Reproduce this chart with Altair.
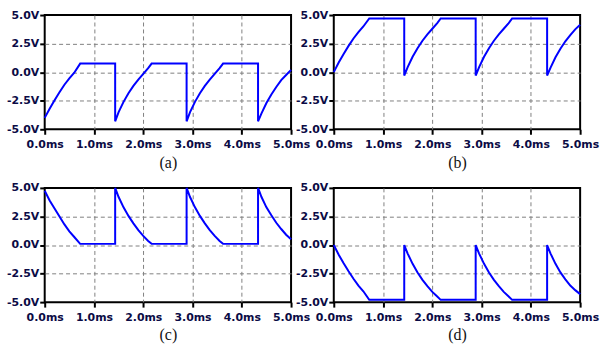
import altair as alt
import pandas as pd

# time samples (ms)
T = [0, 0.1, 0.2, 0.3, 0.4, 0.5, 0.6, 0.72, 1.43,
     1.43, 1.5, 1.6, 1.7, 1.8, 1.9, 2.0, 2.1, 2.17, 2.88,
     2.88, 2.95, 3.05, 3.15, 3.25, 3.35, 3.45, 3.55, 3.62, 4.33,
     4.33, 4.4, 4.5, 4.6, 4.7, 4.8, 4.9, 5.0]

VA = [-4.0, -3.2, -2.45, -1.75, -1.1, -0.55, -0.05, 0.75, 0.75,
      -4.3, -3.5, -2.6, -1.85, -1.2, -0.65, -0.15, 0.35, 0.75, 0.75,
      -4.3, -3.5, -2.6, -1.85, -1.2, -0.65, -0.15, 0.35, 0.75, 0.75,
      -4.3, -3.6, -2.7, -1.95, -1.3, -0.7, -0.25, 0.2]

VB = [0.0, 0.85, 1.6, 2.3, 2.95, 3.5, 4.0, 4.7, 4.7,
      -0.3, 0.45, 1.35, 2.1, 2.75, 3.3, 3.8, 4.3, 4.7, 4.7,
      -0.3, 0.45, 1.35, 2.1, 2.75, 3.3, 3.8, 4.3, 4.7, 4.7,
      -0.3, 0.4, 1.3, 2.05, 2.7, 3.25, 3.75, 4.15]

VC = [4.75, 3.9, 3.2, 2.5, 1.8, 1.2, 0.7, 0.1, 0.1,
      5.0, 4.2, 3.3, 2.55, 1.9, 1.3, 0.8, 0.35, 0.1, 0.1,
      5.0, 4.2, 3.3, 2.55, 1.9, 1.3, 0.8, 0.35, 0.1, 0.1,
      5.0, 4.2, 3.3, 2.6, 1.95, 1.4, 0.9, 0.5]

VD = [0.0, -0.85, -1.6, -2.3, -2.95, -3.55, -4.05, -4.8, -4.8,
      0.0, -0.75, -1.65, -2.4, -3.05, -3.6, -4.1, -4.5, -4.8, -4.8,
      0.0, -0.75, -1.65, -2.4, -3.05, -3.6, -4.1, -4.5, -4.8, -4.8,
      0.0, -0.75, -1.65, -2.4, -3.0, -3.55, -3.95, -4.3]

PANELS = ["a", "b", "c", "d"]
CAPTIONS = ["(a)", "(b)", "(c)", "(d)"]
X_TICKS = [0, 1, 2, 3, 4, 5]
Y_TICKS = [-5, -2.5, 0, 2.5, 5]

rows = []
for key, vals in zip(PANELS, [VA, VB, VC, VD]):
    for i, (t, v) in enumerate(zip(T, vals)):
        rows.append({"panel": key, "i": i, "t": t, "v": v})
df = pd.DataFrame(rows)

LABEL_COLOR = "#0b0b45"


def panel(key, cap):
    return (
        alt.Chart(df)
        .transform_filter(alt.datum.panel == key)
        .mark_line(color="#0000ff", strokeWidth=2)
        .encode(
            x=alt.X(
                "t:Q",
                scale=alt.Scale(domain=[0, 5], nice=False, zero=False),
                axis=alt.Axis(
                    values=X_TICKS,
                    title=cap,
                    labelExpr="format(datum.value, '.1f') + 'ms'",
                    labelAlign="center",
                    labelFlush=False,
                    gridOpacity={"condition": {"test": "datum.value == 0 || datum.value == 5", "value": 0}, "value": 1},
                ),
            ),
            y=alt.Y(
                "v:Q",
                scale=alt.Scale(domain=[-5, 5], nice=False, zero=False),
                axis=alt.Axis(
                    values=Y_TICKS,
                    title=None,
                    labelExpr="(datum.value < 0 ? '-' : '') + format(abs(datum.value), '.1f') + 'V'",
                    labelBaseline="middle",
                    labelFlush=False,
                    gridOpacity={"condition": {"test": "datum.value == -5 || datum.value == 5", "value": 0}, "value": 1},
                ),
            ),
            order=alt.Order("i:Q"),
        )
        .properties(width=248, height=115)
    )


charts = [panel(k, c) for k, c in zip(PANELS, CAPTIONS)]

chart = (
    alt.concat(*charts, columns=2, spacing={"row": 59, "column": 43}, bounds="flush")
    .properties(padding={"left": 5, "top": 7, "right": 0, "bottom": 0}, background="white")
    .configure_view(stroke="black", strokeWidth=2)
    .configure_axis(
        domain=False,
        labelFont="DejaVu Sans",
        labelFontWeight="bold",
        labelFontSize=11,
        labelColor=LABEL_COLOR,
        tickColor="black",
        tickWidth=2,
        tickSize=5,
        gridColor="#808080",
        gridDash=[4, 3],
        gridWidth=1,
        titleFont="Liberation Serif",
        titleFontWeight="normal",
        titleFontSize=16,
        titleColor="#111111",
    )
    .configure_axisX(labelPadding=4, titlePadding=5)
    .configure_axisY(labelPadding=1)
)

chart.save("out.html", embed_options={"renderer": "svg", "actions": False})
